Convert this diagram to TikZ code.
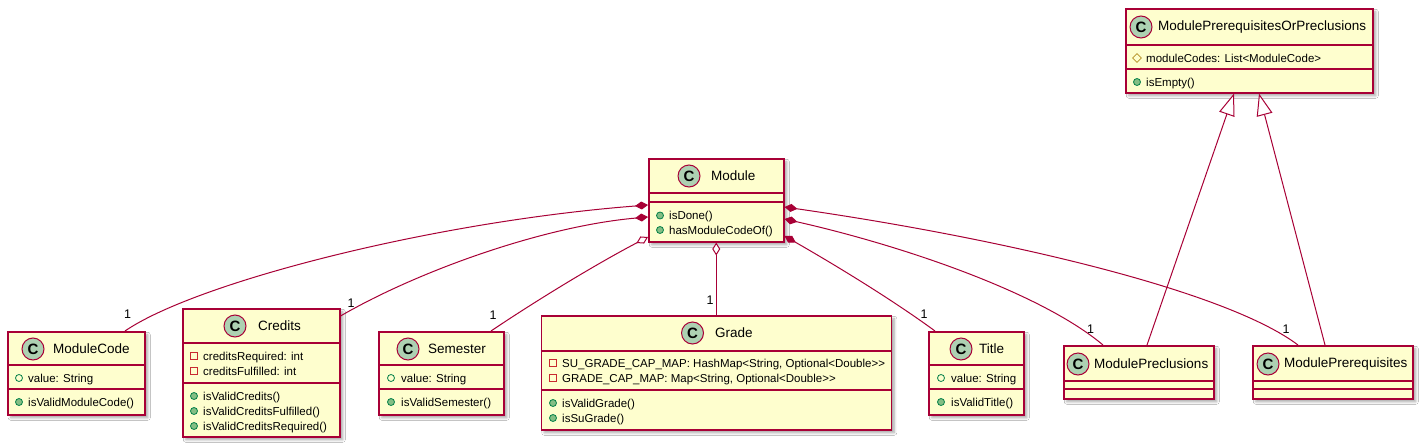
\documentclass[tikz,border=0pt]{standalone}
\usepackage{fontspec}
\setmainfont{Liberation Sans}
\usetikzlibrary{arrows.meta,shapes.geometric,shadows.blur}
\definecolor{umlred}{HTML}{A80036}
\definecolor{umlfill}{HTML}{FEFECE}
\definecolor{cgreen}{HTML}{ADD1B2}
\definecolor{pubfill}{HTML}{84BE84}
\definecolor{pubdraw}{HTML}{038048}
\definecolor{privdraw}{HTML}{C82930}
\definecolor{protdraw}{HTML}{B38D22}
\newcommand\namefnt{\fontsize{13.5}{16}\selectfont}
\newcommand\memfnt{\fontsize{11.5}{14}\selectfont}
\newcommand\multfnt{\fontsize{12.5}{15}\selectfont}
\tikzset{
  cls/.style={draw=umlred, fill=umlfill, line width=1.5pt, anchor=north west, inner sep=0pt,
    blur shadow={shadow xshift=3pt, shadow yshift=-3pt, shadow blur radius=2.5pt, shadow opacity=35}},
  sepline/.style={draw=umlred, line width=1.5pt},
  cicon/.style={circle, draw=umlred, fill=cgreen, line width=1pt, minimum size=22pt, inner sep=0pt,
    font=\fontsize{15}{15}\selectfont\bfseries},
  cname/.style={anchor=west, inner sep=0pt, font=\namefnt},
  mtext/.style={anchor=base west, inner sep=0pt, font=\memfnt},
  pubm/.style={circle, draw=pubdraw, fill=pubfill, minimum size=7pt, inner sep=0pt, line width=0.8pt},
  pubf/.style={circle, draw=pubdraw, minimum size=7pt, inner sep=0pt, line width=0.8pt},
  privf/.style={rectangle, draw=privdraw, minimum size=7pt, inner sep=0pt, line width=0.8pt},
  protf/.style={diamond, draw=protdraw, minimum size=9pt, inner sep=0pt, line width=0.8pt},
  conn/.style={draw=umlred, line width=1pt},
  comp/.style={conn, {Diamond[length=13pt, width=8pt, fill=umlred]}-},
  aggr/.style={conn, {Diamond[open, length=13pt, width=8pt, fill=white]}-},
  inh/.style={conn, -{Triangle[open, length=22pt, width=16pt, fill=white]}},
  mult/.style={anchor=base, inner sep=0pt, font=\multfnt},
}
\begin{document}
\begin{tikzpicture}[x=1pt, y=-1pt]
\useasboundingbox[fill=white] (0,0) rectangle (1423,447);

% ---------- ModulePrerequisitesOrPreclusions
\node[cls, minimum width=247pt, minimum height=84pt] (mpop) at (1125,8) {};
\draw[sepline] (mpop.west |- 0,45) -- (mpop.east |- 0,45);
\draw[sepline] (mpop.west |- 0,69) -- (mpop.east |- 0,69);
\node[cicon] (mpopC) at (1141,27) {C};
\node[cname] (mpopN) at (1158,27) {ModulePrerequisitesOrPreclusions};
\node[protf] (mpopI1) at (1137,58) {};
\node[mtext] (mpopT1) at (1146,62) {moduleCodes: List<ModuleCode>};
\node[pubm] (mpopI2) at (1137,82) {};
\node[mtext] (mpopT2) at (1146,86) {isEmpty()};

% ---------- Module
\node[cls, minimum width=135pt, minimum height=83pt] (mod) at (648,158) {};
\draw[sepline] (mod.west |- 0,193) -- (mod.east |- 0,193);
\draw[sepline] (mod.west |- 0,202) -- (mod.east |- 0,202);
\node[cicon] (modC) at (689,176) {C};
\node[cname] (modN) at (711,176) {Module};
\node[pubm] (modI1) at (660,215.5) {};
\node[mtext] (modT1) at (669,219.5) {isDone()};
\node[pubm] (modI2) at (660,230) {};
\node[mtext] (modT2) at (669,234) {hasModuleCodeOf()};

% ---------- ModuleCode
\node[cls, minimum width=137pt, minimum height=83pt] (mc) at (7,331) {};
\draw[sepline] (mc.west |- 0,365) -- (mc.east |- 0,365);
\draw[sepline] (mc.west |- 0,389) -- (mc.east |- 0,389);
\node[cicon] (mcC) at (33,349) {C};
\node[cname] (mcN) at (53,349) {ModuleCode};
\node[pubf] (mcI1) at (19,378) {};
\node[mtext] (mcT1) at (28,382) {value: String};
\node[pubm] (mcI2) at (19,402) {};
\node[mtext] (mcT2) at (28,406) {isValidModuleCode()};

% ---------- Credits
\node[cls, minimum width=157pt, minimum height=128pt] (cr) at (182,308) {};
\draw[sepline] (cr.west |- 0,343) -- (cr.east |- 0,343);
\draw[sepline] (cr.west |- 0,383) -- (cr.east |- 0,383);
\node[cicon] (crC) at (235,326) {C};
\node[cname] (crN) at (258,326) {Credits};
\node[privf] (crI1) at (194,356) {};
\node[mtext] (crT1) at (203,360) {creditsRequired: int};
\node[privf] (crI2) at (194,371) {};
\node[mtext] (crT2) at (203,375) {creditsFulfilled: int};
\node[pubm] (crI3) at (194,396) {};
\node[mtext] (crT3) at (203,400) {isValidCredits()};
\node[pubm] (crI4) at (194,411) {};
\node[mtext] (crT4) at (203,415) {isValidCreditsFulfilled()};
\node[pubm] (crI5) at (194,426) {};
\node[mtext] (crT5) at (203,430) {isValidCreditsRequired()};

% ---------- Semester
\node[cls, minimum width=125pt, minimum height=83pt] (sem) at (378,331) {};
\draw[sepline] (sem.west |- 0,365) -- (sem.east |- 0,365);
\draw[sepline] (sem.west |- 0,389) -- (sem.east |- 0,389);
\node[cicon] (semC) at (408,349) {C};
\node[cname] (semN) at (428,349) {Semester};
\node[pubf] (semI1) at (391,378) {};
\node[mtext] (semT1) at (401,382) {value: String};
\node[pubm] (semI2) at (391,402) {};
\node[mtext] (semT2) at (401,406) {isValidSemester()};

% ---------- Grade
\node[cls, minimum width=350pt, minimum height=114pt] (grd) at (540.5,315) {};
\draw[sepline] (grd.west |- 0,351) -- (grd.east |- 0,351);
\draw[sepline] (grd.west |- 0,390) -- (grd.east |- 0,390);
\node[cicon] (grdC) at (692.5,333) {C};
\node[cname] (grdN) at (715,333) {Grade};
\node[privf] (grdI1) at (553,363) {};
\node[mtext] (grdT1) at (562,367) {SU\_GRADE\_CAP\_MAP: HashMap<String, Optional<Double>{}>};
\node[privf] (grdI2) at (553,378) {};
\node[mtext] (grdT2) at (562,382) {GRADE\_CAP\_MAP: Map<String, Optional<Double>{}>};
\node[pubm] (grdI3) at (553,403) {};
\node[mtext] (grdT3) at (562,407) {isValidGrade()};
\node[pubm] (grdI4) at (553,418) {};
\node[mtext] (grdT4) at (562,422) {isSuGrade()};

% ---------- Title
\node[cls, minimum width=95pt, minimum height=83pt] (tit) at (928,331) {};
\draw[sepline] (tit.west |- 0,365) -- (tit.east |- 0,365);
\draw[sepline] (tit.west |- 0,389) -- (tit.east |- 0,389);
\node[cicon] (titC) at (961,349) {C};
\node[cname] (titN) at (979,349) {Title};
\node[pubf] (titI1) at (941,378) {};
\node[mtext] (titT1) at (951,382) {value: String};
\node[pubm] (titI2) at (941,402) {};
\node[mtext] (titT2) at (951,406) {isValidTitle()};

% ---------- ModulePreclusions
\node[cls, minimum width=150pt, minimum height=53pt] (mpc) at (1063,345) {};
\draw[sepline] (mpc.west |- 0,381) -- (mpc.east |- 0,381);
\draw[sepline] (mpc.west |- 0,389) -- (mpc.east |- 0,389);
\node[cicon] (mpcC) at (1078,364) {C};
\node[cname] (mpcN) at (1094,364) {ModulePreclusions};

% ---------- ModulePrerequisites
\node[cls, minimum width=160pt, minimum height=53pt] (mpr) at (1252,345) {};
\draw[sepline] (mpr.west |- 0,381) -- (mpr.east |- 0,381);
\draw[sepline] (mpr.west |- 0,389) -- (mpr.east |- 0,389);
\node[cicon] (mprC) at (1268,364) {C};
\node[cname] (mprN) at (1284,364) {ModulePrerequisites};

% ---------- connectors
\draw[comp] (mod.west |- 0,205) .. controls (430,222) and (195,283) .. (mc.north -| 125,0);
\draw[comp] (mod.west |- 0,217) .. controls (545,226) and (420,270) .. (cr.east |- 0,316);
\draw[aggr] (mod.west |- 0,237) .. controls (600,262) and (540,298) .. (sem.north -| 491,0);
\draw[aggr] (mod.south) -- (grd.north -| mod.south);
\draw[comp] (mod.east |- 0,236) .. controls (830,262) and (890,298) .. (tit.north -| 935,0);
\draw[comp] (mod.east |- 0,219) .. controls (900,245) and (1040,292) .. (mpc.north -| 1103,0);
\draw[comp] (mod.east |- 0,207) .. controls (1000,238) and (1225,290) .. (mpr.north -| 1298,0);
\draw[inh] (mpc.north -| 1147,0) -- (mpop.south -| 1234,0);
\draw[inh] (mpr.north -| 1325,0) -- (mpop.south -| 1259,0);

% ---------- multiplicities
\node[mult] (m1) at (127.5,318.5) {1};
\node[mult] (m2) at (351,307.5) {1};
\node[mult] (m3) at (493,319) {1};
\node[mult] (m4) at (710,304) {1};
\node[mult] (m5) at (924,318.5) {1};
\node[mult] (m6) at (1090.5,333) {1};
\node[mult] (m7) at (1286,333) {1};
\end{tikzpicture}
\end{document}
